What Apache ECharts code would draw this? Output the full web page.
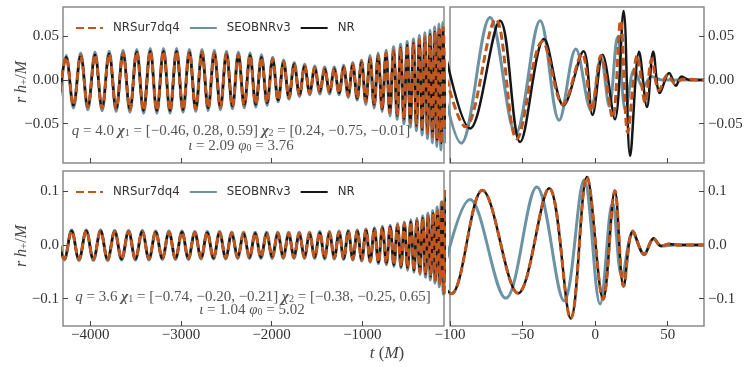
<!DOCTYPE html>
<html>
<head>
<meta charset="utf-8">
<script src="https://cdn.jsdelivr.net/npm/echarts@6/dist/echarts.min.js"></script>
<style>
  html, body { margin: 0; padding: 0; background: #fff; }
  #chart { width: 748px; height: 367px; }
</style>
</head>
<body>
<div id="chart"></div>
<script>
// extrema of the waveforms (t in M, value in r h+/M)

// top row, inspiral panel
var tTopLeft = [-4345,-4265,-4185,-4105,-4026,-3947,-3869,-3791,-3714,-3638,-3562,-3487,-3412,-3338,-3265,-3192,-3120,-3048,-2977,-2907,-2837,-2768,-2700,-2632,-2565,-2498,-2432,-2367,-2302,-2238,-2175,-2112,-2050,-1989,-1928,-1868,-1809,-1751,-1693,-1636,-1580,-1524,-1469,-1415,-1362,-1309,-1257,-1206,-1156,-1106,-1057,-1009,-962,-916,-870,-826,-782,-739,-697,-656,-616,-579,-542,-506,-471,-437,-404,-372,-341,-311,-282,-254,-227,-201,-176,-152,-129,-107,-86];
var nrTopLeft = [-0.025,0.026,-0.029,0.028,-0.031,0.029,-0.032,0.030,-0.033,0.031,-0.034,0.032,-0.035,0.033,-0.035,0.033,-0.035,0.033,-0.034,0.032,-0.033,0.032,-0.032,0.031,-0.031,0.030,-0.030,0.029,-0.029,0.028,-0.028,0.026,-0.026,0.024,-0.023,0.021,-0.020,0.018,-0.017,0.016,-0.015,0.014,-0.014,0.013,-0.014,0.013,-0.015,0.015,-0.018,0.018,-0.021,0.021,-0.025,0.025,-0.029,0.028,-0.033,0.031,-0.037,0.034,-0.041,0.037,-0.045,0.040,-0.049,0.043,-0.053,0.046,-0.057,0.049,-0.061,0.052,-0.065,0.055,-0.069,0.058,-0.072,0.060,-0.0555];
var tTopLeftSeob = [-4345,-4265,-4185,-4105,-4026,-3947,-3869,-3791,-3714,-3638,-3562,-3487,-3412,-3338,-3265,-3192,-3120,-3048,-2977,-2907,-2837,-2768,-2700,-2632,-2565,-2498,-2432,-2367,-2302,-2238,-2175,-2112,-2050,-1989,-1928,-1868,-1809,-1751,-1693,-1636,-1580,-1524,-1469,-1415,-1362,-1309,-1257,-1206,-1156,-1106,-1057,-1009,-962,-916,-870,-826,-782,-739,-697,-656,-616,-579,-542,-506,-471,-437,-404,-372,-341,-311,-282,-254,-228,-203,-179,-156,-134,-113,-92];
var seobTopLeft = [-0.027,0.028,-0.032,0.031,-0.034,0.032,-0.035,0.033,-0.036,0.034,-0.037,0.035,-0.038,0.036,-0.038,0.036,-0.038,0.036,-0.037,0.035,-0.036,0.035,-0.035,0.034,-0.034,0.033,-0.033,0.032,-0.032,0.031,-0.031,0.029,-0.029,0.026,-0.025,0.023,-0.022,0.020,-0.019,0.018,-0.017,0.016,-0.016,0.015,-0.016,0.015,-0.017,0.017,-0.020,0.020,-0.023,0.023,-0.028,0.028,-0.032,0.031,-0.036,0.034,-0.041,0.038,-0.045,0.041,-0.050,0.044,-0.054,0.047,-0.058,0.051,-0.063,0.054,-0.067,0.057,-0.072,0.061,-0.076,0.064,-0.080,0.066,-0.0723];

// top row, merger panel
var tTopRightNr = [-107,-86.2,-65.5,-51.7,-35.2,-21.8,-8,-1.8,5.1,13.6,19.6,24.1,30.3,35.7,40,44.6,51,55.6,59.5,65,75];
var nrTopRight = [0.060,-0.0555,0.068,-0.071,0.047,-0.029,0.033,-0.040,0.029,-0.045,0.079,-0.087,0.0325,-0.031,0.0325,-0.015,0.008,-0.0066,0.004,0,0];
var tTopRightSur = [-110,-89.2,-68.5,-54,-36.3,-22.2,-9,-2.5,4,12,17.5,22.5,29,34.5,39,44,50,55,60,75];
var surTopRight = [0.055,-0.0536,0.0696,-0.0673,0.044,-0.028,0.030,-0.036,0.028,-0.043,0.068,-0.060,0.028,-0.026,0.024,-0.012,0.006,-0.004,0.001,0];
var tTopRightSeob = [-113,-92.2,-72.4,-54.7,-37.9,-24.8,-13.3,-3,4,9.7,15.4,21,27,33,39,46,75];
var seobTopRight = [0.066,-0.0723,0.0715,-0.061,0.068,-0.046,0.0356,-0.034,0.025,-0.030,0.049,-0.035,0.012,-0.008,0.004,0,0];

// bottom row, inspiral panel
var tBottomLeft = [-4366,-4285,-4205,-4124,-4044,-3965,-3886,-3808,-3730,-3654,-3577,-3502,-3426,-3352,-3278,-3205,-3132,-3060,-2988,-2918,-2847,-2778,-2710,-2641,-2574,-2506,-2440,-2374,-2309,-2244,-2181,-2118,-2055,-1994,-1932,-1872,-1812,-1754,-1696,-1638,-1582,-1526,-1470,-1416,-1363,-1309,-1257,-1206,-1155,-1105,-1056,-1007,-960,-914,-867,-823,-779,-735,-693,-652,-612,-574,-537,-501,-466,-431,-398,-366,-335,-304,-275,-247,-220,-194,-169,-144,-121,-99,-78];
var nrBottomLeft = [0.024,-0.026,0.026,-0.027,0.026,-0.027,0.026,-0.027,0.025,-0.026,0.025,-0.026,0.025,-0.026,0.024,-0.025,0.024,-0.025,0.024,-0.025,0.023,-0.024,0.023,-0.024,0.023,-0.024,0.022,-0.023,0.022,-0.023,0.022,-0.023,0.022,-0.023,0.022,-0.023,0.022,-0.023,0.022,-0.023,0.022,-0.023,0.023,-0.024,0.023,-0.024,0.024,-0.025,0.025,-0.026,0.026,-0.028,0.028,-0.030,0.030,-0.032,0.032,-0.034,0.034,-0.037,0.037,-0.040,0.040,-0.043,0.043,-0.047,0.046,-0.051,0.050,-0.055,0.054,-0.060,0.059,-0.066,0.065,-0.072,0.080,-0.091,0.102];
var tBottomLeftSeob = [-4366,-4285,-4205,-4124,-4044,-3965,-3886,-3808,-3730,-3654,-3577,-3502,-3426,-3352,-3278,-3205,-3132,-3060,-2988,-2918,-2847,-2778,-2710,-2641,-2574,-2506,-2440,-2374,-2309,-2244,-2181,-2118,-2055,-1994,-1932,-1872,-1812,-1754,-1696,-1638,-1582,-1526,-1470,-1416,-1363,-1309,-1257,-1206,-1155,-1105,-1056,-1007,-960,-914,-867,-823,-779,-735,-693,-652,-612,-574,-537,-501,-466,-431,-398,-366,-335,-304,-278,-251,-225,-200,-176,-152,-130,-108,-86.2];
var seobBottomLeft = [0.026,-0.028,0.028,-0.029,0.028,-0.029,0.028,-0.029,0.027,-0.028,0.027,-0.028,0.027,-0.028,0.026,-0.027,0.026,-0.027,0.026,-0.027,0.025,-0.026,0.025,-0.026,0.025,-0.026,0.024,-0.025,0.024,-0.025,0.024,-0.025,0.024,-0.025,0.024,-0.025,0.024,-0.025,0.024,-0.025,0.024,-0.025,0.025,-0.026,0.025,-0.026,0.026,-0.027,0.027,-0.028,0.028,-0.030,0.030,-0.032,0.032,-0.035,0.035,-0.037,0.037,-0.040,0.040,-0.043,0.043,-0.047,0.047,-0.051,0.050,-0.055,0.054,-0.060,0.059,-0.065,0.064,-0.071,0.071,-0.078,0.080,-0.092,0.085];

// bottom row, merger panel
var tBottomRightNr = [-121,-99,-77.7,-53.1,-31.7,-16.8,-5.7,5.5,13.6,19.6,26.0,33.8,40.3,45.3,51,58,75];
var nrBottomRight = [0.080,-0.091,0.102,-0.090,0.106,-0.137,0.127,-0.101,0.101,-0.077,0.026,-0.018,0.0126,-0.002,0.002,0,0];
var tBottomRightSeob = [-108,-86.2,-61.6,-40.2,-21.4,-7.6,3.4,12.0,18.5,26,33.8,40.3,46,55,75];
var seobBottomRight = [-0.092,0.085,-0.099,0.108,-0.104,0.121,-0.110,0.079,-0.060,0.022,-0.016,0.011,-0.002,0,0];

// axes
var leftTicks = [-4000, -3000, -2000, -1000];
var rightTicks = [-100, -50, 0, 50];
var topTicks = [-0.05, 0, 0.05];
var bottomTicks = [-0.1, 0, 0.1];

var SUR = '#c1561e', SEOB = '#6b93a3', NR = '#161616';
var FRAME = '#8a8a8a', TXT = '#333';
var SERIF = 'Liberation Serif';

var grids = [
  { left: 63, top: 7, width: 381, height: 156 },
  { left: 450, top: 7, width: 254, height: 156 },
  { left: 63, top: 171, width: 381, height: 155 },
  { left: 450, top: 171, width: 254, height: 155 }
];

function minus(v) { return String(v).replace('-', '\u2212'); }

function xAxisFor(i) {
  var isLeft = i % 2 === 0, isBottom = i >= 2;
  var ticks = isLeft ? leftTicks : rightTicks;
  return {
    type: 'value', gridIndex: i,
    min: isLeft ? -4300 : -100, max: isLeft ? -100 : 75,
    axisLine: { show: false, onZero: false },
    splitLine: { show: false },
    axisTick: { inside: true, length: 5, customValues: ticks, lineStyle: { color: '#444', width: 1 } },
    axisLabel: {
      show: isBottom, customValues: ticks, margin: 2, color: TXT, fontFamily: SERIF, fontSize: 15,
      formatter: function (v) { return minus(v); }
    }
  };
}

function yAxisFor(i) {
  var isLeft = i % 2 === 0, isBottom = i >= 2;
  var ticks = isBottom ? bottomTicks : topTicks;
  var digits = isBottom ? 1 : 2;
  return {
    type: 'value', gridIndex: i,
    position: isLeft ? 'left' : 'right',
    min: isBottom ? -0.151 : -0.095, max: isBottom ? 0.138 : 0.0836,
    axisLine: { show: false, onZero: false },
    splitLine: { show: false },
    axisTick: { inside: true, length: 5, customValues: ticks, lineStyle: { color: '#444', width: 1 } },
    axisLabel: {
      customValues: ticks, margin: 4, color: TXT, fontFamily: SERIF, fontSize: 15,
      formatter: function (v) { return minus(v.toFixed(digits)); }
    }
  };
}

function wave(name, idx, ts, vs, color, width, dash, z) {
  return {
    name: name, type: 'line', xAxisIndex: idx, yAxisIndex: idx,
    data: ts.map(function (t, k) { return [t, vs[k]]; }),
    showSymbol: false, symbol: 'none', smooth: 0.36,
    lineStyle: { color: color, width: width, type: dash },
    itemStyle: { color: color },
    z: z, silent: true, animation: false
  };
}

var series = [
  wave('SEOBNRv3', 0, tTopLeftSeob, seobTopLeft, SEOB, 3, 'solid', 2),
  wave('NR', 0, tTopLeft, nrTopLeft, NR, 2.5, 'solid', 3),
  wave('NRSur7dq4', 0, tTopLeft, nrTopLeft, SUR, 3, [8, 4], 4),
  wave('SEOBNRv3', 1, tTopRightSeob, seobTopRight, SEOB, 3, 'solid', 2),
  wave('NR', 1, tTopRightNr, nrTopRight, NR, 2.5, 'solid', 3),
  wave('NRSur7dq4', 1, tTopRightSur, surTopRight, SUR, 3, [8, 4], 4),
  wave('SEOBNRv3', 2, tBottomLeftSeob, seobBottomLeft, SEOB, 3, 'solid', 2),
  wave('NR', 2, tBottomLeft, nrBottomLeft, NR, 2.5, 'solid', 3),
  wave('NRSur7dq4', 2, tBottomLeft, nrBottomLeft, SUR, 3, [8, 4], 4),
  wave('SEOBNRv3', 3, tBottomRightSeob, seobBottomRight, SEOB, 3, 'solid', 2),
  wave('NR', 3, tBottomRightNr, nrBottomRight, NR, 2.5, 'solid', 3),
  wave('NRSur7dq4', 3, tBottomRightNr, nrBottomRight, SUR, 3, [8, 4], 4)
];

function legendAt(top) {
  return {
    left: 70, top: top, itemWidth: 27, itemHeight: 12, itemGap: 9,
    data: ['NRSur7dq4', 'SEOBNRv3', 'NR'],
    itemStyle: { opacity: 0 },
    textStyle: { color: TXT, fontFamily: 'DejaVu Sans', fontSize: 11.8, padding: [0, 0, 0, 5] },
    selectedMode: false
  };
}

var ital = { fontFamily: SERIF, fontStyle: 'italic', fontSize: 15, fill: '#555' };
var bold = { fontFamily: SERIF, fontStyle: 'italic', fontWeight: 'bold', fontSize: 15, fill: '#555' };
var sub = { fontFamily: SERIF, fontSize: 10, fill: '#555', verticalAlign: 'bottom' };

function note(x, y, text) {
  return {
    type: 'text', x: x, y: y, silent: true,
    style: {
      text: text, align: 'center', verticalAlign: 'middle',
      fontFamily: SERIF, fontSize: 15, fill: '#555',
      rich: { i: ital, b: bold, s: sub }
    }
  };
}

function ylabel(x, y) {
  return {
    type: 'text', x: x, y: y, rotation: Math.PI / 2, silent: true,
    style: {
      text: '{a|r h}{s|+}{n|/}{a|M}', align: 'center', verticalAlign: 'middle',
      rich: {
        a: { fontFamily: SERIF, fontStyle: 'italic', fontSize: 16, fill: '#444' },
        n: { fontFamily: SERIF, fontSize: 16, fill: '#444' },
        s: { fontFamily: SERIF, fontSize: 11, fill: '#444', verticalAlign: 'bottom' }
      }
    }
  };
}

var option = {
  animation: false,
  grid: grids.map(function (g) {
    return Object.assign({ show: true, borderColor: FRAME, borderWidth: 1.5, backgroundColor: 'transparent' }, g);
  }),
  xAxis: [0, 1, 2, 3].map(xAxisFor),
  yAxis: [0, 1, 2, 3].map(yAxisFor),
  legend: [legendAt(17), legendAt(181)],
  series: series,
  graphic: [
    note(241, 131, '{i|q} = 4.0 {b|\u03c7}{s|1} = [\u22120.46, 0.28, 0.59] {b|\u03c7}{s|2} = [0.24, \u22120.75, \u22120.01]'),
    note(241, 146, '{i|\u03b9} = 2.09 {i|\u03c6}{s|0} = 3.76'),
    note(253, 297, '{i|q} = 3.6 {b|\u03c7}{s|1} = [\u22120.74, \u22120.20, \u22120.21] {b|\u03c7}{s|2} = [\u22120.38, \u22120.25, 0.65]'),
    note(252, 310, '{i|\u03b9} = 1.04 {i|\u03c6}{s|0} = 5.02'),
    ylabel(22, 82),
    ylabel(22, 246),
    {
      type: 'text', x: 387, y: 354, silent: true,
      style: {
        text: '{i|t} ({i|M})', align: 'center', verticalAlign: 'middle',
        fontFamily: SERIF, fontSize: 17, fill: '#444',
        rich: { i: { fontFamily: SERIF, fontStyle: 'italic', fontSize: 17, fill: '#444' } }
      }
    }
  ]
};

var chart = echarts.init(document.getElementById('chart'), null, { renderer: 'canvas' });
chart.setOption(option);
</script>
</body>
</html>
